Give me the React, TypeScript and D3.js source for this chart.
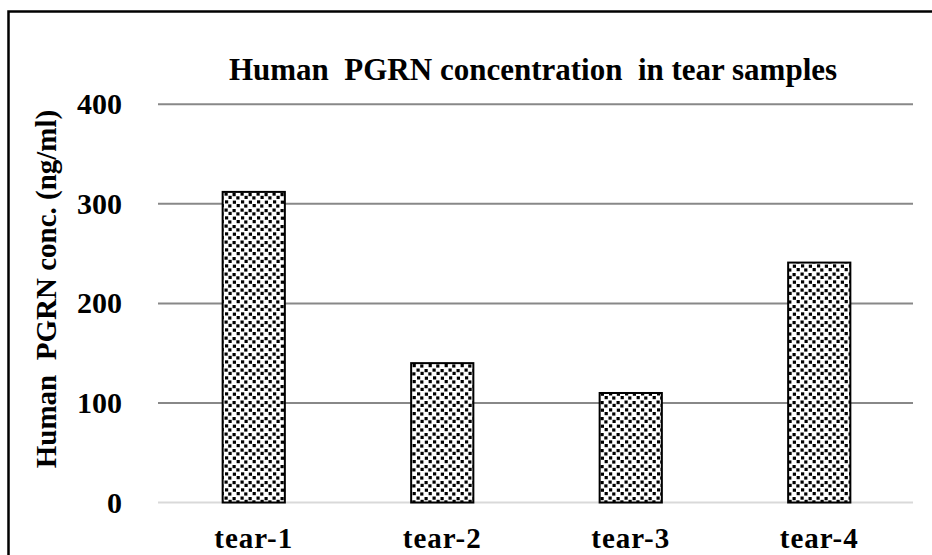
import React from "react";
import * as d3 from "d3";

const categories = ["tear-1", "tear-2", "tear-3", "tear-4"];
const values = [312, 140, 110, 241];
const yTicks = [0, 100, 200, 300, 400];
const title = "Human  PGRN concentration  in tear samples";
const yTitle = "Human  PGRN conc. (ng/ml)";

const W = 932;
const H = 555;
const FONT = "'Liberation Serif', 'Times New Roman', serif";

export default function App() {
  const x = d3
    .scaleBand<string>()
    .domain(categories)
    .range([159.5, 913.5])
    .paddingInner(0.67)
    .paddingOuter(0.335);
  const y = d3.scaleLinear().domain([0, 400]).range([502.5, 104.3]);

  // irregular dot positions in a 16x16 tile
  const dots: [number, number][] = [
    [0.5, 0.5], [8.5, 1.0], [4.5, 3.8], [12.3, 4.3],
    [1.0, 8.3], [8.8, 8.6], [4.2, 12.4], [12.6, 12.0],
  ];

  const pre = { whiteSpace: "pre" as const };

  return (
    <svg
      width={W}
      height={H}
      style={{ position: "absolute", left: 0, top: 0, background: "#fff" }}
    >
      <defs>
        <pattern id="dots" width={16} height={16} patternUnits="userSpaceOnUse">
          <rect width={16} height={16} fill="#fff" />
          {dots.map(([dx, dy], i) => (
            <rect key={i} x={dx} y={dy} width={3.2} height={3.2} fill="#000" />
          ))}
        </pattern>
      </defs>
      <rect x={0} y={0} width={W} height={H} fill="#fff" />
      {/* outer frame */}
      <rect x={8.5} y={11.5} width={W + 20} height={H + 20} fill="none" stroke="#000" strokeWidth={2.5} />

      <text
        x={533}
        y={80}
        textAnchor="middle"
        fontFamily={FONT}
        fontWeight="bold"
        fontSize={31}
        fill="#000"
        style={pre}
      >
        {title}
      </text>

      {/* gridlines */}
      {yTicks.map((t) => (
        <line
          key={t}
          x1={158}
          x2={913}
          y1={y(t)}
          y2={y(t)}
          stroke={t === 0 ? "#d9d9d9" : "#888888"}
          strokeWidth={2}
        />
      ))}

      {/* tick labels */}
      {yTicks.map((t) => (
        <text
          key={t}
          x={122}
          y={y(t) + 10}
          textAnchor="end"
          fontFamily={FONT}
          fontWeight="bold"
          fontSize={30}
          fill="#000"
        >
          {t}
        </text>
      ))}

      {/* bars */}
      {categories.map((c, i) => (
        <rect
          key={c}
          x={x(c)!}
          y={y(values[i])}
          width={x.bandwidth()}
          height={y(0) - y(values[i])}
          fill="url(#dots)"
          stroke="#000"
          strokeWidth={2}
        />
      ))}

      {/* x labels */}
      {categories.map((c) => (
        <text
          key={c}
          x={x(c)! + x.bandwidth() / 2}
          y={548}
          textAnchor="middle"
          fontFamily={FONT}
          fontWeight="bold"
          fontSize={29}
          letterSpacing={1}
          fill="#000"
        >
          {c}
        </text>
      ))}

      <text
        transform={`translate(56, 289) rotate(-90)`}
        textAnchor="middle"
        fontFamily={FONT}
        fontWeight="bold"
        fontSize={29}
        fill="#000"
        style={pre}
      >
        {yTitle}
      </text>
    </svg>
  );
}
